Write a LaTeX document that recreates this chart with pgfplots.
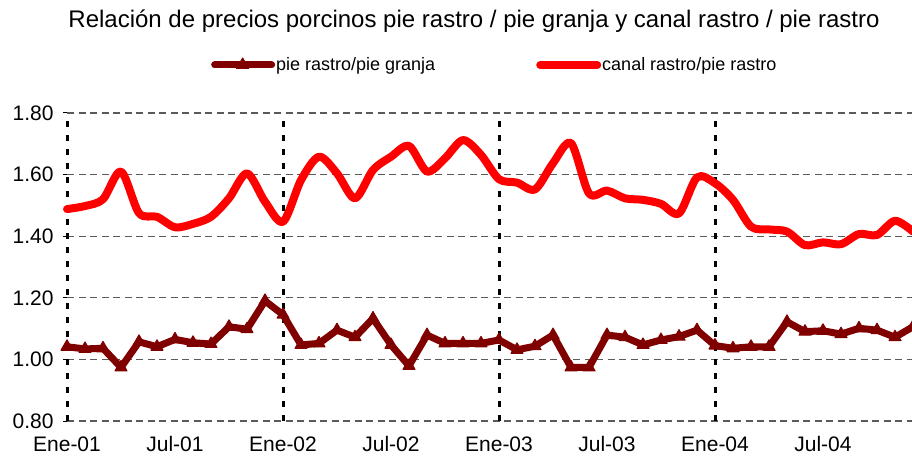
\documentclass[border=0pt]{standalone}
\usepackage{fontspec}
\setmainfont{Liberation Sans}
\usepackage{pgfplots}
\pgfplotsset{compat=1.18}
\definecolor{darkred}{RGB}{128,0,0}
\definecolor{brightred}{RGB}{255,0,0}
\definecolor{gridgray}{RGB}{90,90,90}
\begin{document}
\begin{tikzpicture}[x=1pt,y=1pt]
\useasboundingbox (0,0) rectangle (912,460);
\begin{axis}[
  at={(67pt,39pt)}, anchor=south west,
  width=846pt, height=308pt, scale only axis,
  xmin=0, xmax=47, ymin=0.8, ymax=1.8,
  axis line style={draw=none},
  ytick={0.8,1.0,1.2,1.4,1.6,1.8},
  yticklabel style={/pgf/number format/fixed, /pgf/number format/fixed zerofill, /pgf/number format/precision=2, /pgf/number format/assume math mode=true, font=\fontsize{21}{25}\selectfont, xshift=-6pt},
  xtick={0,6,12,18,24,30,36,42},
  xticklabels={Ene-01,Jul-01,Ene-02,Jul-02,Ene-03,Jul-03,Ene-04,Jul-04},
  xticklabel style={font=\fontsize{21}{25}\selectfont, yshift=-12pt},
  x tick style={draw=none},
  y tick style={black, line width=1pt},
  ytick align=outside, major tick length=4pt,
  ymajorgrids,
  y grid style={gridgray, line width=1.3pt, dash pattern=on 7pt off 4.5pt},
  extra x ticks={0,12,24,36},
  extra x tick labels={},
  extra x tick style={grid=major, major grid style={black, line width=3pt, dash pattern=on 6pt off 8pt}, tick style={draw=none}},
  legend style={at={(0.505,1.156)}, anchor=center, draw=none, fill=none,
    legend columns=2, font=\fontsize{18}{22}\selectfont,
    /tikz/every even column/.append style={column sep=100pt},
    nodes={inner xsep=1pt}},
  legend image code/.code={\draw[mark repeat=2, mark phase=2, #1] plot coordinates {(0pt,0pt) (28pt,0pt) (57pt,0pt)};},
  clip=false,
]
\addplot[darkred, line width=7pt, line join=round, line cap=round, mark=triangle*, mark size=7pt, mark options={solid, line width=1pt, fill=darkred}]
coordinates {
(0,1.041)(1,1.034)(2,1.036)(3,0.974)(4,1.057)(5,1.041)(6,1.065)(7,1.054)(8,1.05)(9,1.106)
(10,1.098)(11,1.19)(12,1.145)(13,1.047)(14,1.052)(15,1.095)(16,1.072)(17,1.133)(18,1.047)(19,0.979)
(20,1.079)(21,1.052)(22,1.052)(23,1.052)(24,1.063)(25,1.031)(26,1.043)(27,1.079)(28,0.974)(29,0.974)
(30,1.079)(31,1.072)(32,1.047)(33,1.063)(34,1.074)(35,1.095)(36,1.045)(37,1.036)(38,1.041)(39,1.041)
(40,1.122)(41,1.09)(42,1.093)(43,1.082)(44,1.101)(45,1.095)(46,1.072)(47,1.106)
};
\addlegendentry{pie rastro/pie granja}
\addplot[brightred, line width=8pt, line join=round, line cap=round, smooth, tension=0.5]
coordinates {
(0,1.488)(1,1.498)(2,1.52)(3,1.61)(4,1.475)(5,1.463)(6,1.429)(7,1.44)(8,1.463)(9,1.523)
(10,1.604)(11,1.512)(12,1.447)(13,1.582)(14,1.658)(15,1.604)(16,1.523)(17,1.615)(18,1.658)(19,1.693)
(20,1.61)(21,1.653)(22,1.712)(23,1.664)(24,1.585)(25,1.574)(26,1.552)(27,1.637)(28,1.702)(29,1.539)
(30,1.548)(31,1.523)(32,1.518)(33,1.505)(34,1.474)(35,1.591)(36,1.572)(37,1.518)(38,1.431)(39,1.422)
(40,1.415)(41,1.371)(42,1.38)(43,1.374)(44,1.407)(45,1.404)(46,1.45)(47,1.415)
};
\addlegendentry{canal rastro/pie rastro}
\end{axis}
\node[font=\fontsize{24}{28}\selectfont, anchor=base] at (474,432) {Relación de precios porcinos pie rastro / pie granja y canal rastro / pie rastro};
\end{tikzpicture}
\end{document}
